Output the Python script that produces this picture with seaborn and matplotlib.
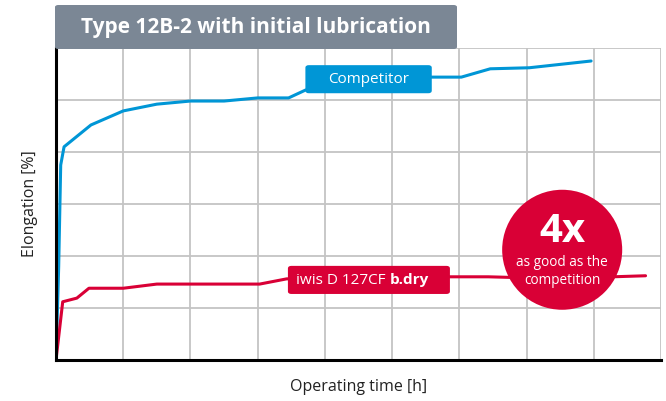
import matplotlib
matplotlib.use("Agg")
import matplotlib.pyplot as plt
import seaborn as sns
import pandas as pd
from matplotlib.patches import FancyBboxPatch, Ellipse

# data in grid units (x: 0-9 columns, y: 0-6 rows)
comp_x = [0, 0.04, 0.07, 0.12, 0.52, 1.0, 1.5, 2.0, 2.5, 3.0, 3.46, 3.71, 4.3, 5.59, 6.03, 6.46, 7.04, 7.96]
comp_y = [0, 1.8, 3.75, 4.1, 4.52, 4.79, 4.92, 4.98, 4.98, 5.04, 5.04, 5.19, 5.42, 5.44, 5.44, 5.6, 5.62, 5.75]
iwis_x = [0, 0.1, 0.31, 0.49, 1.0, 1.5, 3.03, 3.43, 4.5, 5.85, 6.43, 7.0, 8.28, 8.77]
iwis_y = [0, 1.12, 1.19, 1.38, 1.38, 1.46, 1.46, 1.56, 1.6, 1.6, 1.6, 1.58, 1.6, 1.62]

BLUE = "#0096d6"
RED = "#d90036"
GRAY = "#7b8795"

sns.set_style("white")
plt.rcParams['font.family'] = ['Open Sans', 'DejaVu Sans']

fig = plt.figure(figsize=(6.66, 4.01), dpi=100)
ax = fig.add_axes([56 / 666, 1 - 360 / 401, 605 / 666, 312 / 401])

df_c = pd.DataFrame({"x": comp_x, "y": comp_y})
df_i = pd.DataFrame({"x": iwis_x, "y": iwis_y})
sns.lineplot(data=df_c, x="x", y="y", ax=ax, color=BLUE, lw=2.2, sort=False, zorder=3)
sns.lineplot(data=df_i, x="x", y="y", ax=ax, color=RED, lw=2.2, sort=False, zorder=3)

ax.set_xlim(0, 9)
ax.set_ylim(0, 6)
ax.set_xticks(range(0, 10))
ax.set_yticks(range(0, 7))
ax.grid(True, color="#c4c4c4", lw=1.3, zorder=0)
ax.tick_params(length=0, labelbottom=False, labelleft=False)
for s in ["top", "right"]:
    ax.spines[s].set_visible(False)
for s in ["left", "bottom"]:
    ax.spines[s].set_color("black")
    ax.spines[s].set_linewidth(2.2)
    ax.spines[s].set_zorder(4)
ax.set_xlabel("Operating time [h]", fontsize=11.5, color="#222222", labelpad=14)
ax.set_ylabel("Elongation [%]", fontsize=11.5, color="#222222", labelpad=13)

# series labels
ax.add_patch(FancyBboxPatch((3.71, 5.13), 1.88, 0.54, boxstyle="round,pad=0,rounding_size=0.05",
                            fc=BLUE, ec="none", zorder=5))
ax.text(4.65, 5.39, "Competitor", color="white", fontsize=11, ha="center", va="center", zorder=6)

ax.add_patch(FancyBboxPatch((3.45, 1.27), 2.41, 0.54, boxstyle="round,pad=0,rounding_size=0.05",
                            fc=RED, ec="none", zorder=5))
t1 = ax.text(3.57, 1.53, "iwis D 127CF", color="white", fontsize=11, ha="left", va="center", zorder=6)
ax.annotate("b.dry", xy=(1, 0.5), xycoords=t1, xytext=(3, 0), textcoords="offset points",
            color="white", fontsize=11, fontweight="bold", ha="left", va="center", zorder=6)

# 4x badge
ax.add_patch(Ellipse((7.53, 2.12), 120 / 67.2, 120 / 52, fc=RED, ec="none", zorder=5))
ax.text(7.53, 2.47, "4x", color="white", fontsize=29, fontweight="bold", ha="center", va="center", zorder=6)
ax.text(7.53, 1.7, "as good as the\ncompetition", color="white", fontsize=9.8, ha="center", va="center",
        linespacing=1.25, zorder=6)

# title tab
fig.patches.append(FancyBboxPatch((55 / 666, 1 - 49 / 401), 402 / 666, 44 / 401,
                                  boxstyle="round,pad=0,rounding_size=0.005",
                                  transform=fig.transFigure, fc=GRAY, ec="none", zorder=1))
fig.text(256 / 666, 1 - 27 / 401, "Type 12B-2 with initial lubrication", color="white",
         fontsize=15, fontweight="bold", ha="center", va="center")

fig.savefig("out.png", dpi=100)
